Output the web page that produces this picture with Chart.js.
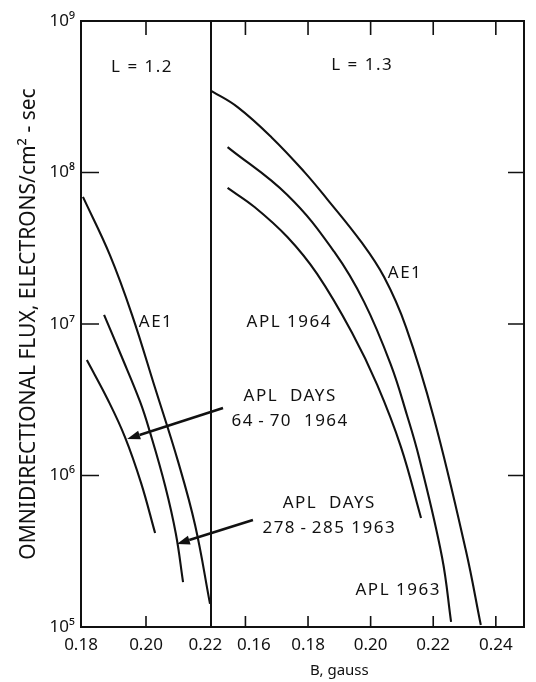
<!DOCTYPE html>
<html lang="en">
<head>
<meta charset="UTF-8">
<title>Omnidirectional electron flux vs B</title>
<script src="https://cdn.jsdelivr.net/npm/chart.js@4"></script>
<style>
  html, body { margin: 0; padding: 0; background: #fff; }
  #wrap { width: 536px; height: 682px; }
</style>
</head>
<body>
<div id="wrap"><canvas id="fluxChart"></canvas></div>
<script>
// B (gauss) and omnidirectional flux (electrons/cm2-sec) along each curve

// L = 1.2 panel
const l12Ae1B = [0.1806, 0.1889, 0.1957, 0.2028, 0.2099, 0.2151, 0.2197];
const l12Ae1F = [6.9e7, 2.85e7, 1.15e7, 3.78e6, 1.23e6, 4.71e5, 1.42e5];
const l12Apl63B = [0.1871, 0.1923, 0.1982, 0.2012, 0.2059, 0.2092, 0.2114];
const l12Apl63F = [1.15e7, 6.24e6, 3.06e6, 1.94e6, 8.53e5, 4.11e5, 1.98e5];
const l12Apl64B = [0.1818, 0.1883, 0.1935, 0.1985, 0.2028];
const l12Apl64F = [5.78e6, 3.15e6, 1.8e6, 8.91e5, 4.17e5];

// L = 1.3 panel
const l13Ae1B = [0.1492, 0.1575, 0.1683, 0.1788, 0.1861, 0.197, 0.2043, 0.2113, 0.2202, 0.2304, 0.2352];
const l13Ae1F = [3.45e8, 2.7e8, 1.71e8, 1.01e8, 6.68e7, 3.48e7, 2.04e7, 9.55e6, 2.4e6, 3.22e5, 1.03e5];
const l13Apl63B = [0.1543, 0.1734, 0.1884, 0.1979, 0.2065, 0.2116, 0.2155, 0.2228, 0.2257];
const l13Apl63F = [1.47e8, 7.1e7, 2.99e7, 1.4e7, 5.36e6, 2.51e6, 1.31e6, 2.9e5, 1.08e5];
const l13Apl64B = [0.1543, 0.1629, 0.1734, 0.1829, 0.1941, 0.2021, 0.2097, 0.2161];
const l13Apl64F = [7.91e7, 5.92e7, 3.75e7, 2.14e7, 8.73e6, 3.96e6, 1.54e6, 5.24e5];

// axes
const fluxTicks = [1e5, 1e6, 1e7, 1e8, 1e9];
const l12Ticks = [0.18, 0.20, 0.22];
const l13Ticks = [0.16, 0.18, 0.20, 0.22, 0.24];
const l12Range = [0.18, 0.22];
const l13Range = [0.149, 0.249];

// curve labels, placed in data units of the panel they sit in
const notes = [
  { axis: 'xL', b: 0.1988, f: 4.97e8, lines: ['L = 1.2'] },
  { axis: 'xR', b: 0.1973, f: 5.13e8, lines: ['L = 1.3'] },
  { axis: 'xL', b: 0.2031, f: 1.03e7, lines: ['AE1'] },
  { axis: 'xR', b: 0.2110, f: 2.17e7, lines: ['AE1'] },
  { axis: 'xR', b: 0.1740, f: 1.03e7, lines: ['APL 1964'] },
  { axis: 'xR', b: 0.1743, f: 3.35e6, lines: ['APL  DAYS', '64\u2009-\u200970  1964'] },
  { axis: 'xR', b: 0.1868, f: 6.58e5, lines: ['APL  DAYS', '278\u2009-\u2009285 1963'] },
  { axis: 'xR', b: 0.2088, f: 1.75e5, lines: ['APL 1963'] }
];
const arrows = [
  { axis: 'xL', from: [0.2237, 2.79e6], to: [0.1942, 1.74e6] },
  { axis: 'xL', from: [0.2329, 5.09e5], to: [0.2095, 3.53e5] }
];

const FONT = '"Noto Sans", "DejaVu Sans", sans-serif';
const sup = { 5: '\u2075', 6: '\u2076', 7: '\u2077', 8: '\u2078', 9: '\u2079' };

// share of the plot width taken by the L = 1.2 panel
const splitFrac = 130 / 443;

function curve(bs, fs, axis) {
  return {
    xAxisID: axis,
    yAxisID: 'y',
    data: bs.map((b, i) => ({ x: b, y: fs[i] })),
    borderColor: '#111',
    borderWidth: 2.1,
    pointRadius: 0,
    tension: 0.4,
    fill: false
  };
}

// frame, panel divider, inward ticks, arrows and curve labels
const panelPlugin = {
  id: 'panels',
  afterDatasetsDraw(chart) {
    const { ctx, chartArea: a, scales } = chart;
    const y = scales.y, xL = scales.xL, xR = scales.xR;
    const div = xL.getPixelForValue(l12Range[1]);
    ctx.save();
    ctx.strokeStyle = '#111';
    ctx.lineWidth = 2;
    ctx.strokeRect(a.left, a.top, a.right - a.left, a.bottom - a.top);
    ctx.beginPath();
    ctx.moveTo(div, a.top);
    ctx.lineTo(div, a.bottom);
    ctx.stroke();

    ctx.lineWidth = 1.6;
    ctx.beginPath();
    [xL, xR].forEach(s => {
      s.ticks.forEach(t => {
        const px = s.getPixelForValue(t.value);
        ctx.moveTo(px, a.top); ctx.lineTo(px, a.top + 14);
        ctx.moveTo(px, a.bottom); ctx.lineTo(px, a.bottom - 11);
      });
    });
    y.ticks.forEach(t => {
      const py = y.getPixelForValue(t.value);
      ctx.moveTo(a.left, py); ctx.lineTo(a.left + 18, py);
      ctx.moveTo(a.right, py); ctx.lineTo(a.right - 16, py);
    });
    ctx.stroke();

    // arrows
    ctx.fillStyle = '#111';
    ctx.lineWidth = 2.6;
    arrows.forEach(ar => {
      const s = scales[ar.axis];
      const x1 = s.getPixelForValue(ar.from[0]), y1 = y.getPixelForValue(ar.from[1]);
      const x2 = s.getPixelForValue(ar.to[0]), y2 = y.getPixelForValue(ar.to[1]);
      const ang = Math.atan2(y2 - y1, x2 - x1);
      const hl = 13, hw = 4.5;
      const bx = x2 - hl * Math.cos(ang), by = y2 - hl * Math.sin(ang);
      ctx.beginPath();
      ctx.moveTo(x1, y1); ctx.lineTo(bx, by);
      ctx.stroke();
      ctx.beginPath();
      ctx.moveTo(x2, y2);
      ctx.lineTo(bx + hw * Math.sin(ang), by - hw * Math.cos(ang));
      ctx.lineTo(bx - hw * Math.sin(ang), by + hw * Math.cos(ang));
      ctx.closePath();
      ctx.fill();
    });

    // labels
    ctx.font = '17px ' + FONT;
    ctx.textAlign = 'center';
    ctx.textBaseline = 'middle';
    ctx.letterSpacing = '1.5px';
    notes.forEach(n => {
      const px = scales[n.axis].getPixelForValue(n.b);
      const py = y.getPixelForValue(n.f);
      n.lines.forEach((ln, i) => ctx.fillText(ln, px, py + i * 25));
    });
    ctx.letterSpacing = '0px';
    ctx.font = '15px ' + FONT;
    ctx.fillText('B, gauss', xR.getPixelForValue(0.19), a.bottom + 44);
    ctx.restore();
  }
};

// both B axes run along the bottom edge; each one only carries its own panel's ticks.
// The two labels that meet at the divider are padded apart with spaces.
const xAxis = (min, max, ticks, side) => ({
  type: 'linear',
  position: { y: 1e5 },
  min: min,
  max: max,
  afterBuildTicks: s => { s.ticks = ticks.map(v => ({ value: v })); },
  grid: { display: false, drawTicks: false },
  border: { display: false },
  ticks: {
    autoSkip: false,
    maxRotation: 0,
    padding: 8,
    color: '#111',
    font: { family: FONT, size: 17 },
    callback: (v, i, all) => {
      const txt = Number(v).toFixed(2);
      if (side === 'left' && i === all.length - 1) return txt + '\u2002\u2009';
      if (side === 'right' && i === 0) return '\u2003' + txt;
      return txt;
    }
  }
});

const l12Max = l12Range[0] + (l12Range[1] - l12Range[0]) / splitFrac;
const l13Min = l13Range[1] - (l13Range[1] - l13Range[0]) / (1 - splitFrac);

new Chart(document.getElementById('fluxChart'), {
  type: 'line',
  data: {
    datasets: [
      curve(l12Ae1B, l12Ae1F, 'xL'),
      curve(l12Apl63B, l12Apl63F, 'xL'),
      curve(l12Apl64B, l12Apl64F, 'xL'),
      curve(l13Ae1B, l13Ae1F, 'xR'),
      curve(l13Apl63B, l13Apl63F, 'xR'),
      curve(l13Apl64B, l13Apl64F, 'xR')
    ]
  },
  options: {
    responsive: true,
    maintainAspectRatio: false,
    animation: false,
    layout: { padding: { left: 0, top: 21, right: 12, bottom: 55 } },
    plugins: { legend: { display: false }, tooltip: { enabled: false } },
    scales: {
      xL: xAxis(l12Range[0], l12Max, l12Ticks, 'left'),
      xR: xAxis(l13Min, l13Range[1], l13Ticks, 'right'),
      y: {
        type: 'logarithmic',
        position: 'left',
        min: 1e5,
        max: 1e9,
        afterBuildTicks: s => { s.ticks = fluxTicks.map(v => ({ value: v })); },
        afterFit: s => { s.width = 81; },
        grid: { display: false, drawTicks: false },
        border: { display: false },
        ticks: {
          padding: 6,
          color: '#111',
          font: { family: FONT, size: 17 },
          callback: v => '10' + sup[Math.round(Math.log10(v))]
        },
        title: {
          display: true,
          text: 'OMNIDIRECTIONAL FLUX, ELECTRONS/cm\u00b2 - sec',
          color: '#111',
          padding: { top: 16, bottom: 0 },
          font: { family: FONT, size: 21 }
        }
      }
    }
  },
  plugins: [panelPlugin]
});
</script>
</body>
</html>
